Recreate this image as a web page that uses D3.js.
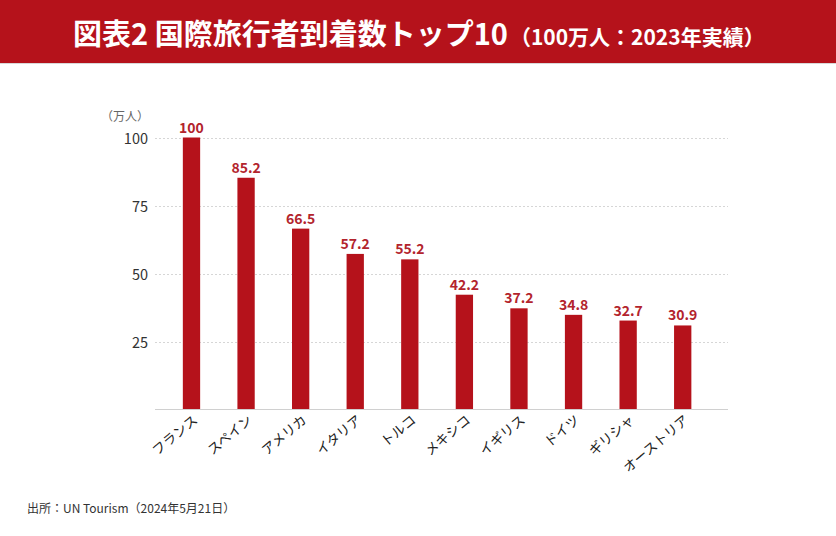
<!DOCTYPE html>
<html><head><meta charset="utf-8">
<script src="https://cdn.jsdelivr.net/npm/d3@7"></script>
<style>body{margin:0;background:#fff}svg{display:block}</style>
</head><body>
<svg id="c" width="836" height="536"></svg>
<script>
const categories = ["フランス","スペイン","アメリカ","イタリア","トルコ","メキシコ","イギリス","ドイツ","ギリシャ","オーストリア"];
const values = [100, 85.2, 66.5, 57.2, 55.2, 42.2, 37.2, 34.8, 32.7, 30.9];
const valueLabels = ["100","85.2","66.5","57.2","55.2","42.2","37.2","34.8","32.7","30.9"];
const yTicks = [25, 50, 75, 100];
const titleMain = "図表2 国際旅行者到着数トップ10";
const titleSub = "（100万人：2023年実績）";
const unitLabel = "（万人）";
const sourceText = "出所：UN Tourism（2024年5月21日）";

const RED = "#b5121b";
const FONT = "'Noto Sans CJK JP','Noto Sans',sans-serif";
const svg = d3.select("#c").style("font-family", FONT);

// header
svg.append("rect").attr("x",0).attr("y",0).attr("width",836).attr("height",63).attr("fill",RED);
svg.append("rect").attr("x",0).attr("y",63).attr("width",836).attr("height",1).attr("fill","#d8d8d8");
const t = svg.append("text").attr("x",73).attr("y",45).attr("fill","#fff").attr("font-weight",700);
t.append("tspan").attr("font-size",29).text(titleMain);
t.append("tspan").attr("font-size",21).attr("dx",2).text(titleSub);

// scales
const x = d3.scaleBand().domain(categories).range([164.2, 710]).paddingInner(0.683).paddingOuter(0.3415);
const y = d3.scaleLinear().domain([0, 100]).range([409.5, 137.5]);
const axisLeft = 155, axisRight = 728;

// gridlines
svg.append("g").selectAll("line").data(yTicks).join("line")
  .attr("x1", axisLeft).attr("x2", axisRight)
  .attr("y1", d => y(d) + 1).attr("y2", d => y(d) + 1)
  .attr("stroke", "#d6d6d6").attr("stroke-width", 1).attr("stroke-dasharray", "2,2");

// y axis labels
const yAxis = svg.append("g").attr("transform", `translate(${axisLeft},1)`)
  .call(d3.axisLeft(y).tickValues(yTicks).tickSize(0).tickPadding(7));
yAxis.select(".domain").remove();
yAxis.selectAll("text").attr("font-size", 14.5).attr("fill", "#333").attr("font-family", FONT).attr("dy","0.35em");

svg.append("text").attr("x", 149).attr("y", 121).attr("text-anchor","end")
  .attr("font-size", 12).attr("fill", "#666").text(unitLabel);

// bars
svg.append("g").selectAll("rect").data(values).join("rect")
  .attr("x", (d,i) => x(categories[i]))
  .attr("width", x.bandwidth())
  .attr("y", d => y(d))
  .attr("height", d => y(0) - y(d))
  .attr("fill", RED);

// value labels
svg.append("g").selectAll("text").data(values).join("text")
  .attr("x", (d,i) => x(categories[i]) + x.bandwidth()/2)
  .attr("y", d => y(d) - 5)
  .attr("text-anchor", "middle")
  .attr("font-size", 14).attr("font-weight", 700).attr("fill", "#b3242d")
  .text((d,i) => valueLabels[i]);

// baseline
svg.append("line").attr("x1", axisLeft).attr("x2", axisRight)
  .attr("y1", y(0)).attr("y2", y(0)).attr("stroke", "#d0d0d0").attr("stroke-width", 1);

// x labels
const xAxis = svg.append("g").attr("transform", `translate(0,${y(0)})`)
  .call(d3.axisBottom(x).tickSize(0).tickPadding(0));
xAxis.select(".domain").remove();
xAxis.selectAll("text")
  .attr("font-size", 13.5).attr("fill", "#222").attr("font-family", FONT)
  .attr("text-anchor", "end").attr("dy", null).attr("y", 0)
  .attr("transform", "translate(7,12) rotate(-40)");

// source
svg.append("text").attr("x", 27).attr("y", 513).attr("font-size", 12).attr("fill", "#333").text(sourceText);
</script>
</body></html>
